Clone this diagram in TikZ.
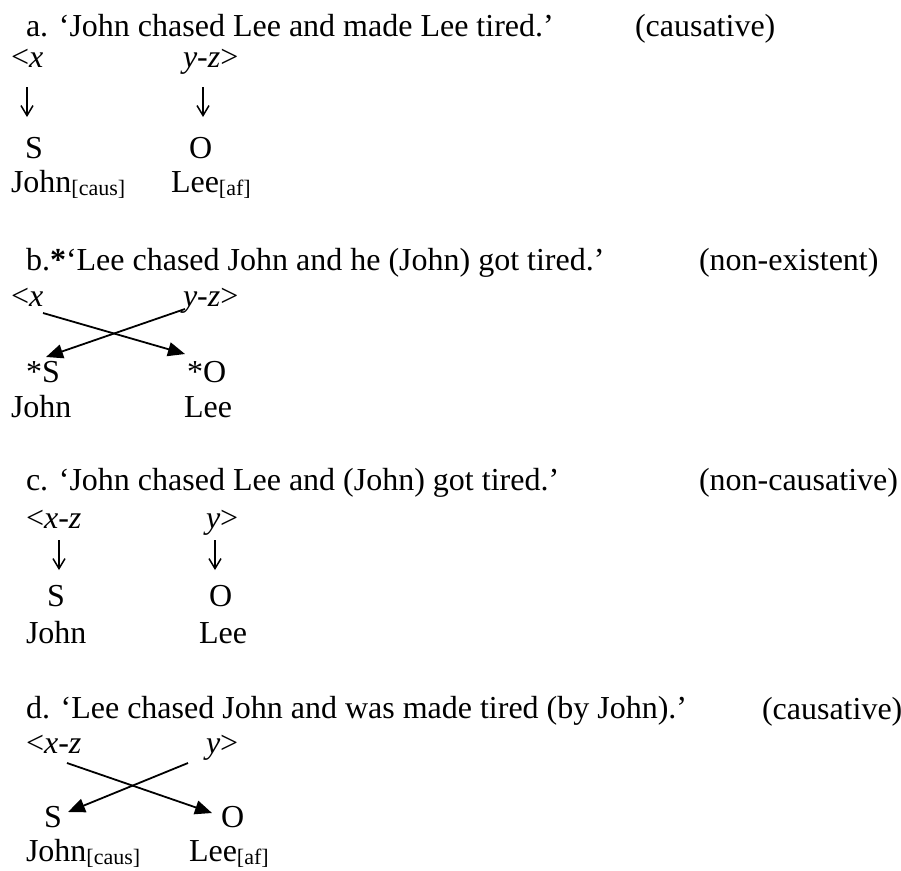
\documentclass[tikz,border=0pt]{standalone}
\usepackage{fontspec}
\setmainfont{Liberation Serif}
\usetikzlibrary{arrows.meta}
\newcommand{\subsc}[1]{\raisebox{-3pt}{\fontsize{22}{24}\selectfont #1}}
\tikzset{
  txt/.style={anchor=base west, inner sep=0pt, outer sep=0pt, font=\fontsize{32}{38}\selectfont},
  downarr/.style={line width=1.5pt, -{Straight Barb[length=10pt,width=12pt,line width=1.5pt]}},
  crossarr/.style={line width=1.8pt, -{Triangle[length=17pt,width=14pt]}}
}
\begin{document}
\begin{tikzpicture}[x=1pt,y=-1pt]
\useasboundingbox (0,0) rectangle (901,870);
% ---------- a ----------
\node[txt] (ta) at (26,36) {a. ‘John chased Lee and made Lee tired.’};
\node[txt] (ca) at (635,36) {(causative)};
\node[txt] (ax) at (11,67) {<\textit{x}};
\node[txt] (ay) at (183,67) {\textit{y-z}>};
\coordinate (a1s) at (27,87);  \coordinate (a1e) at (27,117);
\coordinate (a2s) at (203,87); \coordinate (a2e) at (203,117);
\draw[downarr] (a1s) -- (a1e);
\draw[downarr] (a2s) -- (a2e);
\node[txt] (aS) at (25,158) {S};
\node[txt] (aO) at (189,158) {O};
\node[txt] (aJ) at (11,192) {John\subsc{[caus]}};
\node[txt] (aL) at (171,192) {Lee\subsc{[af]}};
% ---------- b ----------
\node[txt] (tb) at (26,270) {b.\textbf{*}‘Lee chased John and he (John) got tired.’};
\node[txt] (cb) at (699,270) {(non-existent)};
\node[txt] (bx) at (11,306) {<\textit{x}};
\node[txt] (by) at (183,306) {\textit{y-z}>};
\coordinate (b1s) at (43,313);  \coordinate (b1e) at (185,354);
\coordinate (b2s) at (185,309); \coordinate (b2e) at (46,357);
\draw[crossarr] (b1s) -- (b1e);
\draw[crossarr] (b2s) -- (b2e);
\node[txt] (bS) at (26,382) {*S};
\node[txt] (bO) at (187,382) {*O};
\node[txt] (bJ) at (11,417) {John};
\node[txt] (bL) at (184,417) {Lee};
% ---------- c ----------
\node[txt] (tc) at (26,490) {c. ‘John chased Lee and (John) got tired.’};
\node[txt] (cc) at (699,490) {(non-causative)};
\node[txt] (cx) at (26,528) {<\textit{x-z}};
\node[txt] (cy) at (206,528) {\textit{y}>};
\coordinate (c1s) at (59,540);  \coordinate (c1e) at (59,570);
\coordinate (c2s) at (215,540); \coordinate (c2e) at (215,570);
\draw[downarr] (c1s) -- (c1e);
\draw[downarr] (c2s) -- (c2e);
\node[txt] (cS) at (47,606) {S};
\node[txt] (cO) at (209,606) {O};
\node[txt] (cJ) at (26,643) {John};
\node[txt] (cL) at (199,643) {Lee};
% ---------- d ----------
\node[txt] (td) at (26,718) {d. ‘Lee chased John and was made tired (by John).’};
\node[txt] (cd) at (762,719) {(causative)};
\node[txt] (dx) at (26,753) {<\textit{x-z}};
\node[txt] (dy) at (206,753) {\textit{y}>};
\coordinate (d1s) at (67,763);  \coordinate (d1e) at (212,813);
\coordinate (d2s) at (188,763); \coordinate (d2e) at (68,812);
\draw[crossarr] (d1s) -- (d1e);
\draw[crossarr] (d2s) -- (d2e);
\node[txt] (dS) at (44,827) {S};
\node[txt] (dO) at (221,827) {O};
\node[txt] (dJ) at (26,861) {John\subsc{[caus]}};
\node[txt] (dL) at (189,861) {Lee\subsc{[af]}};
\end{tikzpicture}
\end{document}
